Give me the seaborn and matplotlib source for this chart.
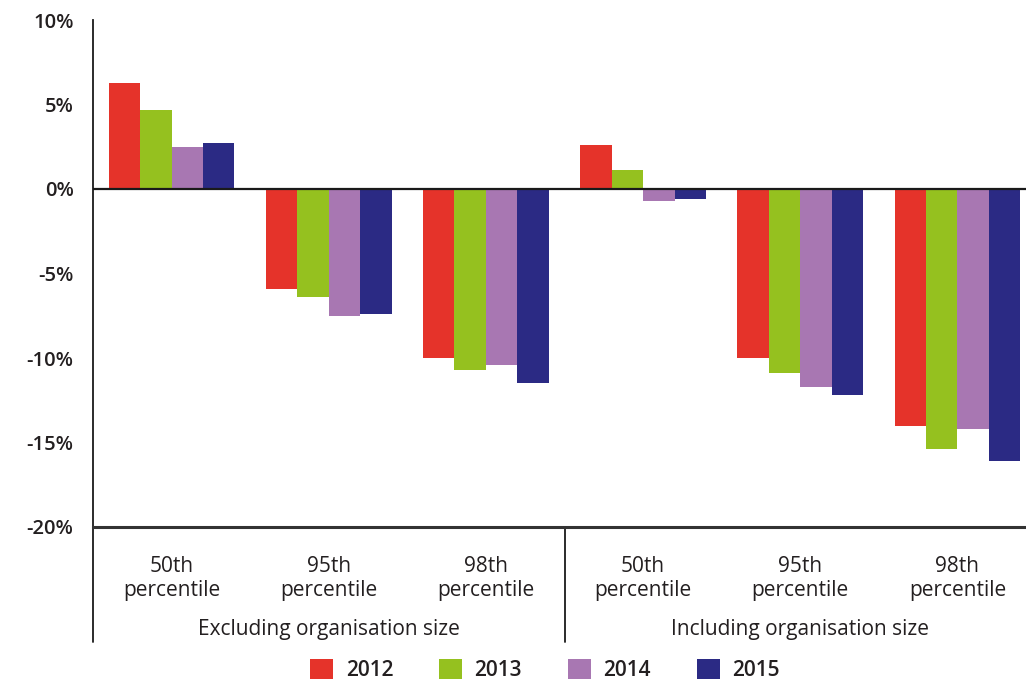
import matplotlib
matplotlib.use("Agg")
import matplotlib.pyplot as plt
import seaborn as sns
import pandas as pd

# Percentile groups and yearly values (%)
groups = ["Excluding organisation size", "Including organisation size"]
percentiles = ["50th\npercentile", "95th\npercentile", "98th\npercentile"]
years = ["2012", "2013", "2014", "2015"]

v2012 = [6.3, -5.9, -10.0, 2.6, -10.0, -14.0]
v2013 = [4.7, -6.4, -10.7, 1.1, -10.9, -15.4]
v2014 = [2.5, -7.5, -10.4, -0.7, -11.7, -14.2]
v2015 = [2.7, -7.4, -11.5, -0.6, -12.2, -16.1]

colors = ["#E5332A", "#95C11F", "#A877B2", "#2B2A84"]

cat_keys = [f"{g}|{p}" for g in groups for p in percentiles]
rows = []
for yr, vals in zip(years, [v2012, v2013, v2014, v2015]):
    for key, v in zip(cat_keys, vals):
        rows.append({"cat": key, "year": yr, "value": v})
df = pd.DataFrame(rows)

sns.set_style("white")
plt.rcParams["font.family"] = ["Open Sans", "DejaVu Sans"]
TXT = "#231f20"

fig = plt.figure(figsize=(10.26, 6.83), dpi=100)
ax = fig.add_axes([93 / 1026, 1 - 527 / 683, (1036 - 93) / 1026, (527 - 20) / 683])

sns.barplot(data=df, x="cat", y="value", hue="year", order=cat_keys,
            hue_order=years, palette=colors, width=0.8, saturation=1,
            linewidth=0, ax=ax, legend=True)

ax.set_xlim(-0.5, 5.5)
ax.set_ylim(-20, 10)
ax.set_yticks(range(-20, 11, 5))
ax.set_yticklabels([f"{t}%" for t in range(-20, 11, 5)], fontsize=14.5,
                   fontweight="semibold", color=TXT)
ax.set_xlabel("")
ax.set_ylabel("")

# zero line
ax.axhline(0, color="#1a1a1a", lw=1.6, zorder=5)

for s in ["top", "right"]:
    ax.spines[s].set_visible(False)
ax.spines["left"].set_color("#1a1a1a")
ax.spines["left"].set_linewidth(1.3)
ax.spines["bottom"].set_color("#333333")
ax.spines["bottom"].set_linewidth(2.2)

ax.tick_params(axis="y", direction="out", length=11, width=1.3, color="#1a1a1a", pad=3)

# category labels, boundary ticks
ax.set_xticks(range(6))
ax.set_xticklabels(percentiles * 2, fontsize=15, linespacing=1.15, color=TXT)
ax.tick_params(axis="x", length=0, pad=21)
ax.set_xticks([0.5, 1.5, 3.5, 4.5], minor=True)
ax.tick_params(axis="x", which="minor", direction="out", length=9, width=1.3, color="#1a1a1a")

# extended left axis line and group separator
trans = ax.get_xaxis_transform()
ax.plot([-0.5, -0.5], [0, -115 / 507], transform=trans, color="#1a1a1a", lw=1.3, clip_on=False)
ax.plot([2.5, 2.5], [0, -115 / 507], transform=trans, color="#1a1a1a", lw=1.3, clip_on=False)

# group labels
for i, g in enumerate(groups):
    ax.text(1 + 3 * i, -103 / 507, g, transform=trans, ha="center", va="center",
            fontsize=15, color=TXT)

# legend
handles, labels = ax.get_legend_handles_labels()
ax.get_legend().remove()
fig.legend(handles, labels, loc="center", bbox_to_anchor=(545 / 1026, 1 - 670 / 683),
           ncol=4, frameon=False, prop={"size": 15, "weight": "semibold"},
           labelcolor=TXT, handlelength=1.1, handleheight=1.1,
           columnspacing=2.2, handletextpad=0.6)

fig.savefig("out.png", dpi=100)
